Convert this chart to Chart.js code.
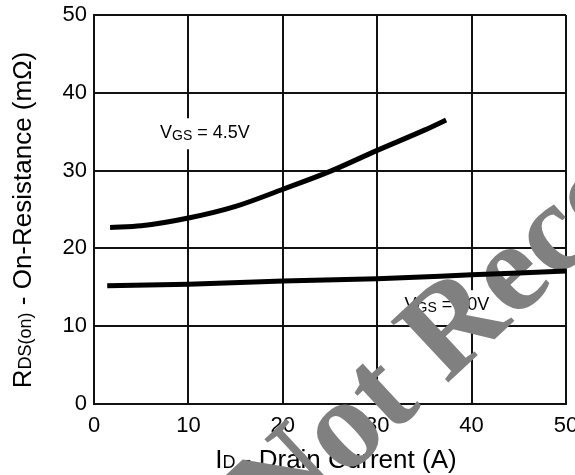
<!DOCTYPE html>
<html>
<head>
<meta charset="utf-8">
<script src="https://cdn.jsdelivr.net/npm/chart.js@4.4.1/dist/chart.umd.min.js"></script>
<style>
  body { margin: 0; background: #fff; }
  canvas { display: block; }
</style>
</head>
<body>
<canvas id="rdsChart" width="575" height="475"></canvas>
<script>
// Datos
const idVgs45 = [1.7, 5, 10, 15, 20, 25, 30, 35, 37.3];
const rdsVgs45 = [22.7, 22.9, 23.9, 25.4, 27.6, 29.9, 32.6, 35.2, 36.5];
const idVgs10 = [1.4, 10, 20, 30, 40, 50];
const rdsVgs10 = [15.2, 15.4, 15.8, 16.1, 16.6, 17.1];
const xTicks = [0, 10, 20, 30, 40, 50];
const yTicks = [0, 10, 20, 30, 40, 50];

const FONT = '"Liberation Sans", Arial, sans-serif';

function toPoints(xs, ys) {
    return xs.map((x, i) => ({ x: x, y: ys[i] }));
}

// Dibuja texto con subíndices: parts = [[texto, tamaño, desplazamiento]]
function drawParts(ctx, parts, x, y) {
    let cx = x;
    parts.forEach(p => {
        ctx.font = p[1] + 'px ' + FONT;
        ctx.fillText(p[0], cx, y + (p[2] || 0));
        cx += ctx.measureText(p[0]).width;
    });
    return cx - x;
}

function partsWidth(ctx, parts) {
    let w = 0;
    parts.forEach(p => {
        ctx.font = p[1] + 'px ' + FONT;
        w += ctx.measureText(p[0]).width;
    });
    return w;
}

const curveLabels = [
    { x: 7.0, y: 34.8, parts: [['V', 18], ['GS', 14, 3], [' = 4.5V', 18]] },
    { x: 32.9, y: 12.7, parts: [['V', 18], ['GS', 14, 3], [' = 10V', 18]] }
];

const decorPlugin = {
    id: 'decor',
    beforeDatasetsDraw(chart) {
        const ctx = chart.ctx;
        const xs = chart.scales.x;
        const ys = chart.scales.y;
        ctx.save();
        ctx.textBaseline = 'middle';
        ctx.fillStyle = '#000';

        // Etiquetas de las curvas con fondo blanco
        curveLabels.forEach(l => {
            const px = xs.getPixelForValue(l.x);
            const py = ys.getPixelForValue(l.y);
            const w = partsWidth(ctx, l.parts);
            ctx.fillStyle = '#fff';
            ctx.fillRect(px - 4, py - 15, w + 8, 31);
            ctx.fillStyle = '#000';
            drawParts(ctx, l.parts, px, py);
        });

        // Títulos de los ejes
        ctx.textBaseline = 'alphabetic';
        const xParts = [['I', 26], ['D', 18], [' - Drain Current (A)', 26]];
        const xw = partsWidth(ctx, xParts);
        drawParts(ctx, xParts, 336 - xw / 2, 468);

        const yParts = [['R', 26], ['DS(on)', 18], [' - On-Resistance (m\u03A9)', 26]];
        const yw = partsWidth(ctx, yParts);
        ctx.save();
        ctx.translate(31, 220);
        ctx.rotate(-Math.PI / 2);
        drawParts(ctx, yParts, -yw / 2, 0);
        ctx.restore();

        // Marca de agua
        ctx.save();
        ctx.translate(277, 542);
        ctx.rotate(-43 * Math.PI / 180);
        ctx.font = 'bold 128px "Liberation Serif", "Times New Roman", serif';
        ctx.fillStyle = '#808080';
        ctx.textBaseline = 'alphabetic';
        ctx.fillText('Not Recommended', 0, 0);
        ctx.restore();

        ctx.restore();
    }
};

const ctx = document.getElementById('rdsChart').getContext('2d');
new Chart(ctx, {
    type: 'line',
    data: {
        datasets: [{
            label: 'VGS = 4.5V',
            data: toPoints(idVgs45, rdsVgs45),
            borderColor: '#000',
            borderWidth: 5,
            pointRadius: 0,
            tension: 0.4,
            cubicInterpolationMode: 'monotone',
            fill: false
        }, {
            label: 'VGS = 10V',
            data: toPoints(idVgs10, rdsVgs10),
            borderColor: '#000',
            borderWidth: 5,
            pointRadius: 0,
            tension: 0.4,
            cubicInterpolationMode: 'monotone',
            fill: false
        }]
    },
    options: {
        responsive: false,
        animation: false,
        layout: {
            padding: { top: 15, right: 9, left: 0, bottom: 0 }
        },
        plugins: {
            legend: { display: false },
            tooltip: { enabled: false }
        },
        scales: {
            x: {
                type: 'linear',
                min: 0,
                max: 50,
                afterBuildTicks: axis => { axis.ticks = xTicks.map(v => ({ value: v })); },
                ticks: {
                    color: '#000',
                    font: { family: FONT, size: 22 },
                    padding: 9,
                    maxRotation: 0
                },
                grid: { color: '#111', lineWidth: 2, drawTicks: false },
                border: { display: true, color: '#111', width: 2 },
                afterFit: axis => {
                    axis.height = 71;
                    axis.paddingLeft = 0;
                    axis.paddingRight = 0;
                }
            },
            y: {
                type: 'linear',
                min: 0,
                max: 50,
                afterBuildTicks: axis => { axis.ticks = yTicks.map(v => ({ value: v })); },
                ticks: {
                    color: '#000',
                    font: { family: FONT, size: 22 },
                    padding: 7
                },
                grid: { color: '#111', lineWidth: 2, drawTicks: false },
                border: { display: true, color: '#111', width: 2 },
                afterFit: axis => {
                    axis.width = 94;
                    axis.paddingTop = 0;
                    axis.paddingBottom = 0;
                }
            }
        }
    },
    plugins: [decorPlugin]
});
</script>
</body>
</html>
